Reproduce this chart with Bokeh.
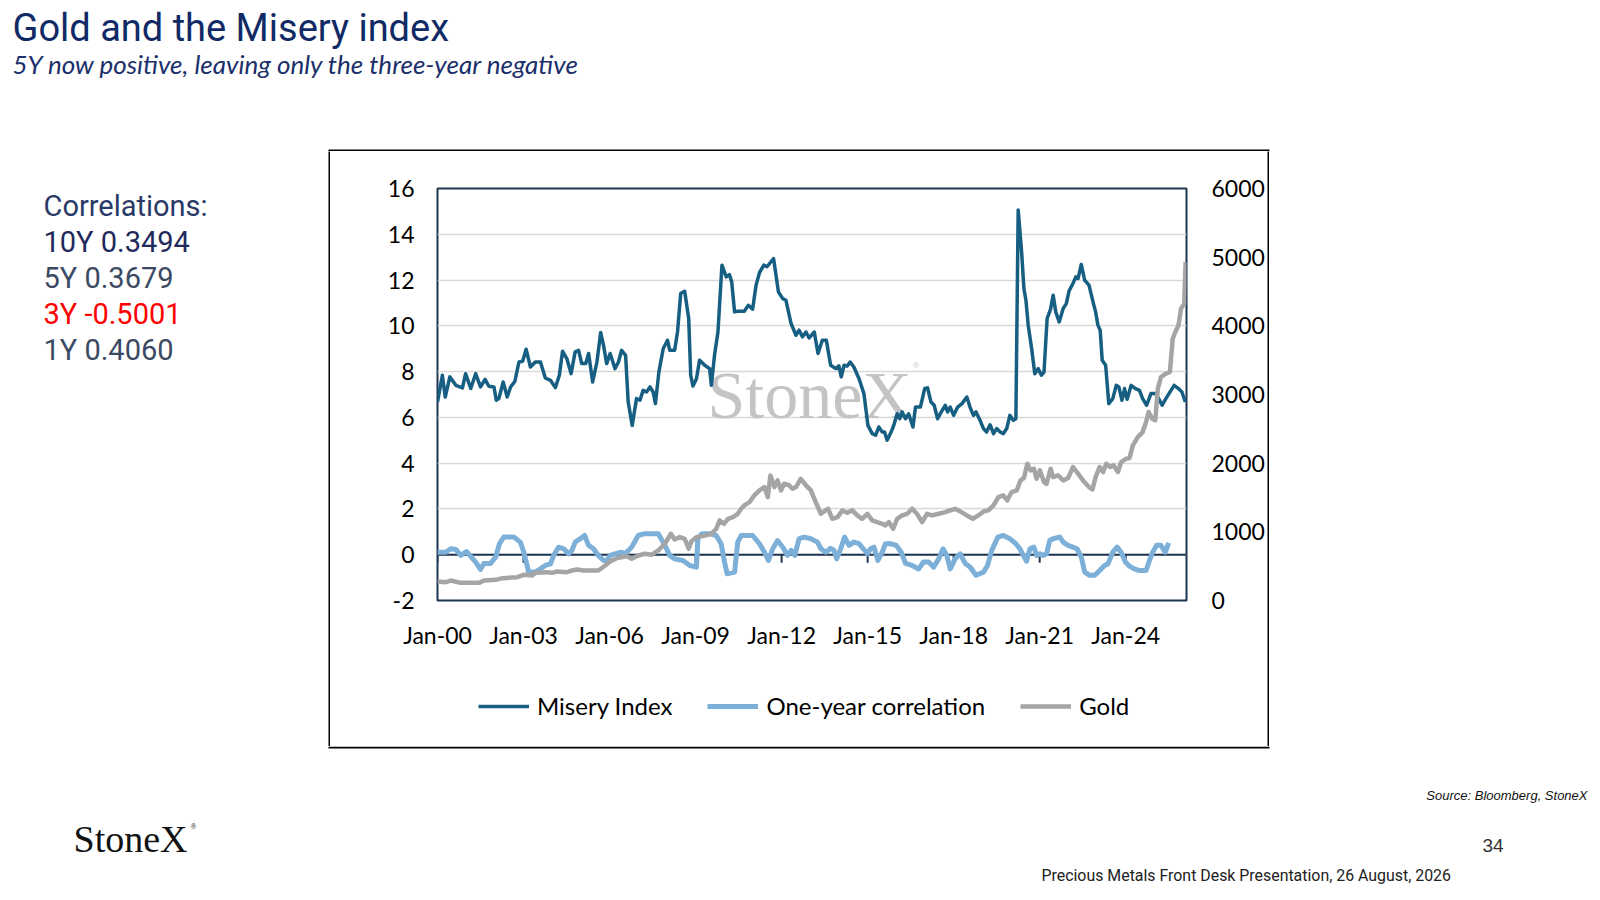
from bokeh.plotting import figure
from bokeh.layouts import column, row
from bokeh.models import (Range1d, LinearAxis, FixedTicker, Label, Legend, LegendItem,
                          Span, ColumnDataSource, BoxAnnotation)
from bokeh.embed import file_html
from bokeh.resources import INLINE

# ---------------- data ----------------
misery_t = [2000.00, 2000.17, 2000.27, 2000.43, 2000.64, 2000.87, 2000.98, 2001.16, 2001.33, 2001.50,
            2001.66, 2001.79, 2001.97, 2002.05, 2002.14, 2002.29, 2002.43, 2002.55, 2002.70, 2002.84,
            2002.97, 2003.09, 2003.24, 2003.41, 2003.59, 2003.76, 2003.94, 2004.11, 2004.25, 2004.36,
            2004.51, 2004.66, 2004.80, 2004.92, 2005.03, 2005.17, 2005.27, 2005.41, 2005.56, 2005.69,
            2005.79, 2005.90, 2006.02, 2006.19, 2006.31, 2006.42, 2006.56, 2006.65, 2006.79, 2006.94,
            2007.06, 2007.17, 2007.29, 2007.41, 2007.52, 2007.60, 2007.72, 2007.87, 2008.02, 2008.10,
            2008.27, 2008.37, 2008.48, 2008.62, 2008.76, 2008.83, 2008.91, 2009.03, 2009.14, 2009.32,
            2009.49, 2009.55, 2009.66, 2009.78, 2009.92, 2010.07, 2010.18, 2010.26, 2010.36, 2010.47,
            2010.70, 2010.84, 2010.99, 2011.11, 2011.23, 2011.38, 2011.49, 2011.63, 2011.72, 2011.89,
            2012.04, 2012.15, 2012.33, 2012.50, 2012.61, 2012.73, 2012.85, 2012.96, 2013.14, 2013.27,
            2013.42, 2013.56, 2013.71, 2013.89, 2014.00, 2014.08, 2014.18, 2014.29, 2014.39, 2014.52,
            2014.70, 2014.87, 2015.01, 2015.16, 2015.28, 2015.39, 2015.51, 2015.59, 2015.68, 2015.82,
            2015.91, 2016.03, 2016.12, 2016.20, 2016.32, 2016.43, 2016.58, 2016.67, 2016.84, 2016.99,
            2017.09, 2017.21, 2017.32, 2017.44, 2017.57, 2017.71, 2017.79, 2017.88, 2018.00, 2018.14,
            2018.29, 2018.46, 2018.57, 2018.69, 2018.78, 2018.92, 2019.04, 2019.15, 2019.27, 2019.39,
            2019.50, 2019.62, 2019.73, 2019.85, 2019.96, 2020.08, 2020.17, 2020.25, 2020.37, 2020.45,
            2020.52, 2020.60, 2020.72, 2020.83, 2020.95, 2021.06, 2021.15, 2021.26, 2021.38, 2021.47,
            2021.56, 2021.68, 2021.82, 2021.93, 2022.02, 2022.16, 2022.26, 2022.34, 2022.45, 2022.57,
            2022.72, 2022.86, 2022.95, 2023.03, 2023.11, 2023.18, 2023.30, 2023.41, 2023.55, 2023.67,
            2023.76, 2023.87, 2023.96, 2024.05, 2024.19, 2024.34, 2024.48, 2024.59, 2024.73, 2024.88,
            2025.03, 2025.15, 2025.27, 2025.40, 2025.58, 2025.69, 2025.84, 2025.96, 2026.08]
misery_v = [6.67, 7.84, 6.89, 7.77, 7.40, 7.29, 7.91, 7.26, 7.91, 7.33,
            7.66, 7.36, 7.33, 6.75, 6.82, 7.55, 6.89, 7.33, 7.58, 8.42,
            8.45, 8.98, 8.20, 8.42, 8.42, 7.72, 7.62, 7.30, 7.84, 8.89,
            8.57, 7.91, 8.86, 8.93, 8.35, 8.35, 8.79, 7.55, 8.42, 9.71,
            9.15, 8.35, 8.79, 8.13, 8.42, 8.93, 8.71, 6.67, 5.65, 6.82,
            6.75, 7.18, 7.11, 7.33, 7.11, 6.60, 7.98, 9.00, 9.37, 8.93,
            8.93, 9.73, 11.41, 11.51, 10.32, 7.84, 7.37, 7.69, 8.50, 8.28,
            8.13, 7.40, 8.71, 9.73, 12.65, 12.14, 12.24, 11.92, 10.61, 10.64,
            10.64, 10.90, 10.73, 11.78, 12.33, 12.65, 12.58, 12.80, 12.94, 11.48,
            11.19, 11.12, 10.10, 9.59, 9.81, 9.52, 9.73, 9.47, 9.73, 8.79,
            9.37, 9.37, 8.28, 8.13, 8.25, 7.77, 8.28, 8.24, 8.42, 8.20,
            7.69, 7.04, 5.65, 5.29, 5.22, 5.58, 5.36, 5.36, 5.00, 5.36,
            5.65, 6.16, 5.94, 6.24, 5.94, 6.16, 5.58, 6.45, 6.45, 7.26,
            7.29, 6.67, 6.53, 5.94, 6.24, 6.53, 6.24, 6.45, 6.09, 6.45,
            6.60, 6.89, 6.45, 6.09, 6.24, 5.87, 5.51, 5.36, 5.68, 5.29,
            5.51, 5.36, 5.29, 5.51, 6.09, 5.87, 5.94, 15.06, 13.23, 11.63,
            11.12, 10.03, 9.00, 7.91, 8.13, 7.84, 7.98, 10.32, 10.73, 11.34,
            10.61, 10.17, 10.76, 10.97, 11.51, 11.85, 12.14, 12.07, 12.68, 11.99,
            11.78, 11.05, 10.61, 10.03, 9.81, 8.50, 8.28, 6.60, 6.82, 7.40,
            7.33, 6.75, 7.26, 6.79, 7.40, 7.26, 7.18, 6.82, 6.53, 7.04,
            7.04, 6.82, 6.53, 6.82, 7.18, 7.40, 7.26, 7.11, 6.67]

corr_t = [2000.00, 2000.29, 2000.46, 2000.64, 2000.81, 2001.01, 2001.16, 2001.33, 2001.50, 2001.62,
          2001.85, 2002.03, 2002.16, 2002.31, 2002.66, 2002.89, 2003.01, 2003.18, 2003.41, 2003.59,
          2003.76, 2003.94, 2004.05, 2004.22, 2004.40, 2004.57, 2004.69, 2004.80, 2004.98, 2005.13,
          2005.27, 2005.44, 2005.61, 2005.79, 2005.90, 2006.02, 2006.19, 2006.42, 2006.54, 2006.77,
          2007.00, 2007.23, 2007.70, 2007.93, 2008.10, 2008.27, 2008.56, 2008.80, 2009.03, 2009.08,
          2009.22, 2009.49, 2009.72, 2009.89, 2010.01, 2010.10, 2010.36, 2010.47, 2010.59, 2010.99,
          2011.23, 2011.40, 2011.54, 2011.69, 2011.86, 2012.04, 2012.21, 2012.33, 2012.46, 2012.61,
          2012.79, 2013.02, 2013.25, 2013.37, 2013.54, 2013.71, 2013.83, 2013.92, 2014.04, 2014.20,
          2014.35, 2014.52, 2014.70, 2014.85, 2014.99, 2015.10, 2015.22, 2015.36, 2015.51, 2015.62,
          2015.80, 2016.00, 2016.17, 2016.32, 2016.55, 2016.78, 2016.95, 2017.13, 2017.30, 2017.48,
          2017.63, 2017.76, 2017.88, 2018.05, 2018.23, 2018.40, 2018.57, 2018.78, 2019.04, 2019.18,
          2019.33, 2019.54, 2019.73, 2019.96, 2020.17, 2020.31, 2020.43, 2020.54, 2020.66, 2020.80,
          2020.89, 2021.01, 2021.12, 2021.24, 2021.35, 2021.47, 2021.70, 2021.82, 2021.99, 2022.16,
          2022.30, 2022.45, 2022.57, 2022.74, 2022.92, 2023.09, 2023.26, 2023.38, 2023.55, 2023.70,
          2023.84, 2023.99, 2024.13, 2024.30, 2024.48, 2024.71, 2024.83, 2024.94, 2025.08, 2025.23,
          2025.38, 2025.50]
corr_v = [0.11, 0.11, 0.26, 0.23, -0.03, 0.14, -0.07, -0.32, -0.64, -0.38,
          -0.38, -0.10, 0.48, 0.77, 0.77, 0.55, 0.11, -0.76, -0.76, -0.62,
          -0.47, -0.40, -0.03, 0.33, 0.26, 0.04, 0.19, 0.55, 0.70, 0.84,
          0.41, 0.26, -0.03, -0.25, -0.25, -0.03, 0.04, 0.11, 0.04, 0.33,
          0.84, 0.92, 0.92, 0.41, -0.03, -0.18, -0.25, -0.47, -0.54, 0.70,
          0.92, 0.92, 0.84, 0.48, -0.32, -0.83, -0.76, 0.55, 0.84, 0.84,
          0.48, 0.11, -0.25, 0.26, 0.62, 0.33, -0.03, 0.19, -0.03, 0.70,
          0.77, 0.70, 0.55, 0.26, 0.11, 0.28, 0.19, -0.18, 0.19, 0.77,
          0.41, 0.55, 0.48, 0.26, 0.04, 0.26, 0.33, -0.25, 0.11, 0.48,
          0.48, 0.41, 0.11, -0.38, -0.47, -0.62, -0.32, -0.32, -0.54, -0.18,
          0.26, -0.03, -0.62, -0.18, 0.04, -0.38, -0.54, -0.90, -0.76, -0.47,
          0.19, 0.77, 0.84, 0.70, 0.48, 0.26, -0.03, -0.29, 0.26, 0.33,
          -0.03, 0.04, -0.03, 0.04, 0.62, 0.70, 0.77, 0.55, 0.41, 0.33,
          0.26, -0.10, -0.76, -0.90, -0.90, -0.69, -0.47, -0.40, 0.11, 0.33,
          0.11, -0.32, -0.50, -0.62, -0.69, -0.69, -0.25, 0.11, 0.41, 0.41,
          0.11, 0.52]

gold_t = [2000.00, 2000.29, 2000.46, 2000.81, 2001.45, 2001.62, 2002.03, 2002.26, 2002.78, 2003.01,
          2003.30, 2003.41, 2003.82, 2003.99, 2004.17, 2004.51, 2004.69, 2004.86, 2005.09, 2005.61,
          2005.85, 2006.02, 2006.25, 2006.42, 2006.60, 2006.77, 2007.00, 2007.23, 2007.46, 2007.70,
          2007.93, 2008.14, 2008.27, 2008.45, 2008.62, 2008.76, 2008.85, 2009.03, 2009.32, 2009.55,
          2009.72, 2009.84, 2009.99, 2010.13, 2010.30, 2010.47, 2010.59, 2010.70, 2010.88, 2011.05,
          2011.23, 2011.40, 2011.52, 2011.61, 2011.75, 2011.86, 2011.98, 2012.09, 2012.27, 2012.38,
          2012.50, 2012.67, 2012.85, 2013.02, 2013.19, 2013.37, 2013.62, 2013.77, 2013.95, 2014.12,
          2014.29, 2014.47, 2014.64, 2014.81, 2014.99, 2015.16, 2015.33, 2015.51, 2015.62, 2015.74,
          2015.89, 2016.03, 2016.20, 2016.38, 2016.55, 2016.72, 2016.90, 2017.07, 2017.24, 2017.48,
          2017.71, 2017.88, 2018.05, 2018.23, 2018.46, 2018.67, 2018.86, 2019.04, 2019.21, 2019.39,
          2019.56, 2019.73, 2019.87, 2020.02, 2020.20, 2020.33, 2020.45, 2020.57, 2020.68, 2020.80,
          2020.89, 2021.01, 2021.15, 2021.24, 2021.38, 2021.47, 2021.64, 2021.82, 2021.99, 2022.16,
          2022.34, 2022.51, 2022.72, 2022.84, 2022.95, 2023.09, 2023.21, 2023.32, 2023.46, 2023.58,
          2023.73, 2023.84, 2024.02, 2024.13, 2024.25, 2024.42, 2024.59, 2024.71, 2024.80, 2024.92,
          2025.03, 2025.12, 2025.23, 2025.40, 2025.54, 2025.64, 2025.73, 2025.84, 2025.93, 2026.04,
          2026.09]
gold_v = [277, 267, 291, 257, 257, 291, 301, 325, 340, 374,
          364, 403, 413, 403, 423, 413, 437, 452, 437, 437,
          510, 568, 617, 631, 646, 607, 656, 680, 665, 729,
          826, 972, 889, 923, 899, 753, 860, 923, 947, 972,
          1044, 1166, 1117, 1190, 1214, 1263, 1336, 1385, 1433, 1530,
          1603, 1652, 1506, 1822, 1652, 1749, 1603, 1700, 1676, 1627,
          1652, 1773, 1676, 1603, 1433, 1263, 1336, 1190, 1214, 1312,
          1278, 1312, 1239, 1190, 1263, 1166, 1142, 1117, 1093, 1142,
          1044, 1190, 1239, 1263, 1336, 1263, 1142, 1263, 1239, 1263,
          1287, 1312, 1336, 1297, 1239, 1190, 1239, 1297, 1312, 1385,
          1506, 1530, 1457, 1579, 1603, 1749, 1783, 1992, 1895, 1919,
          1773, 1895, 1725, 1700, 1919, 1797, 1822, 1749, 1783, 1943,
          1846, 1749, 1652, 1618, 1797, 1943, 1870, 1992, 1943, 1968,
          1870, 2016, 2065, 2074, 2259, 2380, 2453, 2599, 2745, 2648,
          2623, 3085, 3255, 3303, 3328, 3813, 3911, 4008, 4251, 4324,
          4931]

x_tick_years = [2000, 2003, 2006, 2009, 2012, 2015, 2018, 2021, 2024]
x_tick_labels = ["Jan-00", "Jan-03", "Jan-06", "Jan-09", "Jan-12", "Jan-15", "Jan-18", "Jan-21", "Jan-24"]
left_ticks = [-2, 0, 2, 4, 6, 8, 10, 12, 14, 16]
right_ticks = [0, 1000, 2000, 3000, 4000, 5000, 6000]
series_names = ["Misery Index", "One-year correlation", "Gold"]
series_colors = ["#175E83", "#7DB0D8", "#A5A5A5"]
series_widths = [3.5, 5, 4.5]
corr_lines = ["Correlations:", "10Y 0.3494", "5Y 0.3679", "3Y -0.5001", "1Y 0.4060"]

TICK_FONT = "Lato"

# ---------------- page geometry (pixels) ----------------
BOX_L, BOX_T, BOX_R, BOX_B, BW = 328, 151, 1269, 746, 2   # black box around the chart
IN_L, IN_R = BOX_L + BW, BOX_R - BW
IN_W = IN_R - IN_L
FL, FT, FR, FB = 437, 188, 1189, 600  # plot frame on the page
LEG_TOP = 673


def blank_panel(width, height, fill="white"):
    f = figure(width=width, height=height, min_border=0, x_axis_type=None, y_axis_type=None,
               x_range=Range1d(0, 1), y_range=Range1d(0, 1), outline_line_color=None,
               output_backend="svg", toolbar_location=None, margin=(0, 0, 0, 0),
               background_fill_color=fill, border_fill_color=fill)
    f.grid.visible = False
    f.frame_align = False
    return f


# ---------------- helper: a text-only panel (its frame is the whole panel) ----------------
def text_panel(width, height, page_x, page_y):
    f = blank_panel(width, height)

    def lab(text, X, Y, size, font, color, style="normal", align="left"):
        f.add_layout(Label(x=X - page_x, y=page_y + height - Y, x_units="screen", y_units="screen",
                           text=text, text_font=font, text_font_size=f"{size}px", text_color=color,
                           text_font_style=style, text_align=align, text_baseline="middle"))

    def hbar(top_y, bottom_y):
        f.add_layout(BoxAnnotation(left=BOX_L - page_x, right=BOX_R - page_x,
                                   top=page_y + height - top_y, bottom=page_y + height - bottom_y,
                                   left_units="screen", right_units="screen", top_units="screen",
                                   bottom_units="screen", fill_color="black", fill_alpha=1,
                                   line_color=None))
    return f, lab, hbar


# header
header, hl, hbar_h = text_panel(1595, BOX_T, 0, 0)
hl("Gold and the Misery index", 12, 27, 38, "Roboto", "#102a66")
hl("5Y now positive, leaving only the three-year negative", 12, 63, 26, "Lato", "#1b2f6b", style="italic")
hbar_h(BOX_T - BW, BOX_T)          # top edge of the chart box

# correlations panel (left of the chart)
side, sl, _ = text_panel(BOX_L, BOX_B - BOX_T, 0, BOX_T)
corr_colors = ["#2a3a68", "#1f2a5c", "#3b4a63", "#ff0000", "#3b4a63"]
for i, (txt, col) in enumerate(zip(corr_lines, corr_colors)):
    sl(txt, 43, 205 + 36 * i, 29, "Roboto", col)

# footer
footer, fl, hbar_f = text_panel(1595, 900 - BOX_B - 5, 0, BOX_B)
fl("Source: Bloomberg, StoneX", 1587, 795, 13, "Liberation Sans", "#111111", style="italic", align="right")
fl("StoneX", 73, 838, 38, "Liberation Serif", "#111111")
fl("®", 190, 826, 8, "Liberation Serif", "#111111")
fl("34", 1482, 845, 19, "Liberation Sans", "#333333")
fl("Precious Metals Front Desk Presentation, 26 August, 2026", 1041, 875, 15.9, "Roboto", "#222222")
hbar_f(BOX_B, BOX_B + BW)          # bottom edge of the chart box

# ---------------- chart ----------------
p = figure(width=IN_W, height=LEG_TOP - BOX_T,
           x_range=Range1d(2000, 2026.12), y_range=Range1d(-2, 16),
           min_border_left=FL - IN_L, min_border_top=FT - BOX_T, min_border_right=IN_R - FR,
           min_border_bottom=LEG_TOP - FB,
           output_backend="svg", toolbar_location=None, margin=(0, 0, 0, 0),
           background_fill_color="white", border_fill_color="white")
p.frame_align = False
p.extra_y_ranges = {"gold": Range1d(0, 6000)}

p.outline_line_color = "#1e3550"
p.outline_line_width = 2
p.xgrid.visible = False
p.ygrid.ticker = FixedTicker(ticks=left_ticks)
p.ygrid.grid_line_color = "#d9d9d9"
p.ygrid.grid_line_width = 1.5


def style_axis(ax, standoff):
    ax.axis_line_color = None
    ax.major_tick_line_color = None
    ax.minor_tick_line_color = None
    ax.major_tick_out = 0
    ax.major_tick_in = 0
    ax.minor_tick_out = 0
    ax.minor_tick_in = 0
    ax.major_label_standoff = standoff
    ax.major_label_text_font = TICK_FONT
    ax.major_label_text_font_size = "23px"
    ax.major_label_text_color = "black"


xa = p.xaxis[0]
xa.ticker = FixedTicker(ticks=x_tick_years)
xa.major_label_overrides = {y: l for y, l in zip(x_tick_years, x_tick_labels)}
style_axis(xa, 20)

ya = p.yaxis[0]
ya.ticker = FixedTicker(ticks=left_ticks)
ya.major_label_overrides = {t: str(t) for t in left_ticks}
style_axis(ya, 23)

ra = LinearAxis(y_range_name="gold", ticker=FixedTicker(ticks=right_ticks))
style_axis(ra, 25)
p.add_layout(ra, "right")

# watermark
p.add_layout(Label(x=809 - FL, y=FB - 394, x_units="screen", y_units="screen", text="StoneX",
                   text_font="Liberation Serif", text_font_size="68px", text_color="#c4c4c4",
                   text_align="center", text_baseline="middle", level="underlay"))
p.add_layout(Label(x=912 - FL, y=FB - 364, x_units="screen", y_units="screen", text="®",
                   text_font="Liberation Serif", text_font_size="9px", text_color="#c4c4c4",
                   text_align="left", text_baseline="middle", level="underlay"))

# zero line with its tick marks
p.add_layout(Span(location=0, dimension="width", line_color="#1e3550", line_width=2, level="underlay"))
tick_len = 8 / (412 / 18)
p.segment(x0=x_tick_years, y0=[0] * len(x_tick_years), x1=x_tick_years,
          y1=[-tick_len] * len(x_tick_years), line_color="#1e3550", line_width=2)

src_m = ColumnDataSource(dict(t=misery_t, v=misery_v))
src_c = ColumnDataSource(dict(t=corr_t, v=corr_v))
src_g = ColumnDataSource(dict(t=gold_t, v=gold_v))
sources = [src_m, src_c, src_g]
p.line("t", "v", source=src_m, line_color=series_colors[0], line_width=series_widths[0], line_join="round")
p.line("t", "v", source=src_c, line_color=series_colors[1], line_width=series_widths[1], line_join="round")
p.line("t", "v", source=src_g, y_range_name="gold", line_color=series_colors[2],
       line_width=series_widths[2], line_join="round")

# ---------------- legend strip (inside the chart box, below the axis) ----------------
leg = blank_panel(IN_W, BOX_B - LEG_TOP)
leg_items = []
for name, col, w, src in zip(series_names, series_colors, series_widths, sources):
    # same series, but outside this strip's (dummy) ranges: only the legend sample shows
    r = leg.line("t", "v", source=src, line_color=col, line_width=w)
    leg_items.append(LegendItem(label=name, renderers=[r]))
legend = Legend(items=leg_items, orientation="horizontal",
                location=(478 - IN_L, BOX_B - 720),
                glyph_width=51, glyph_height=24, label_height=24, label_standoff=8, spacing=35,
                padding=0, margin=0, border_line_color=None, background_fill_alpha=0,
                label_text_font=TICK_FONT, label_text_font_size="24px", label_text_color="black")
leg.add_layout(legend, "center")

# left / right edges of the chart box
left_bar = blank_panel(BW, BOX_B - BOX_T, "black")
right_bar = blank_panel(BW, BOX_B - BOX_T, "black")

chart_col = column(p, leg, spacing=0, margin=(0, 0, 0, 0))
middle = row(side, left_bar, chart_col, right_bar, spacing=0, margin=(0, 0, 0, 0))

layout = column(header, middle, footer, spacing=0, margin=(0, 0, 0, 0))

open("out.html", "w").write(file_html(layout, INLINE))
